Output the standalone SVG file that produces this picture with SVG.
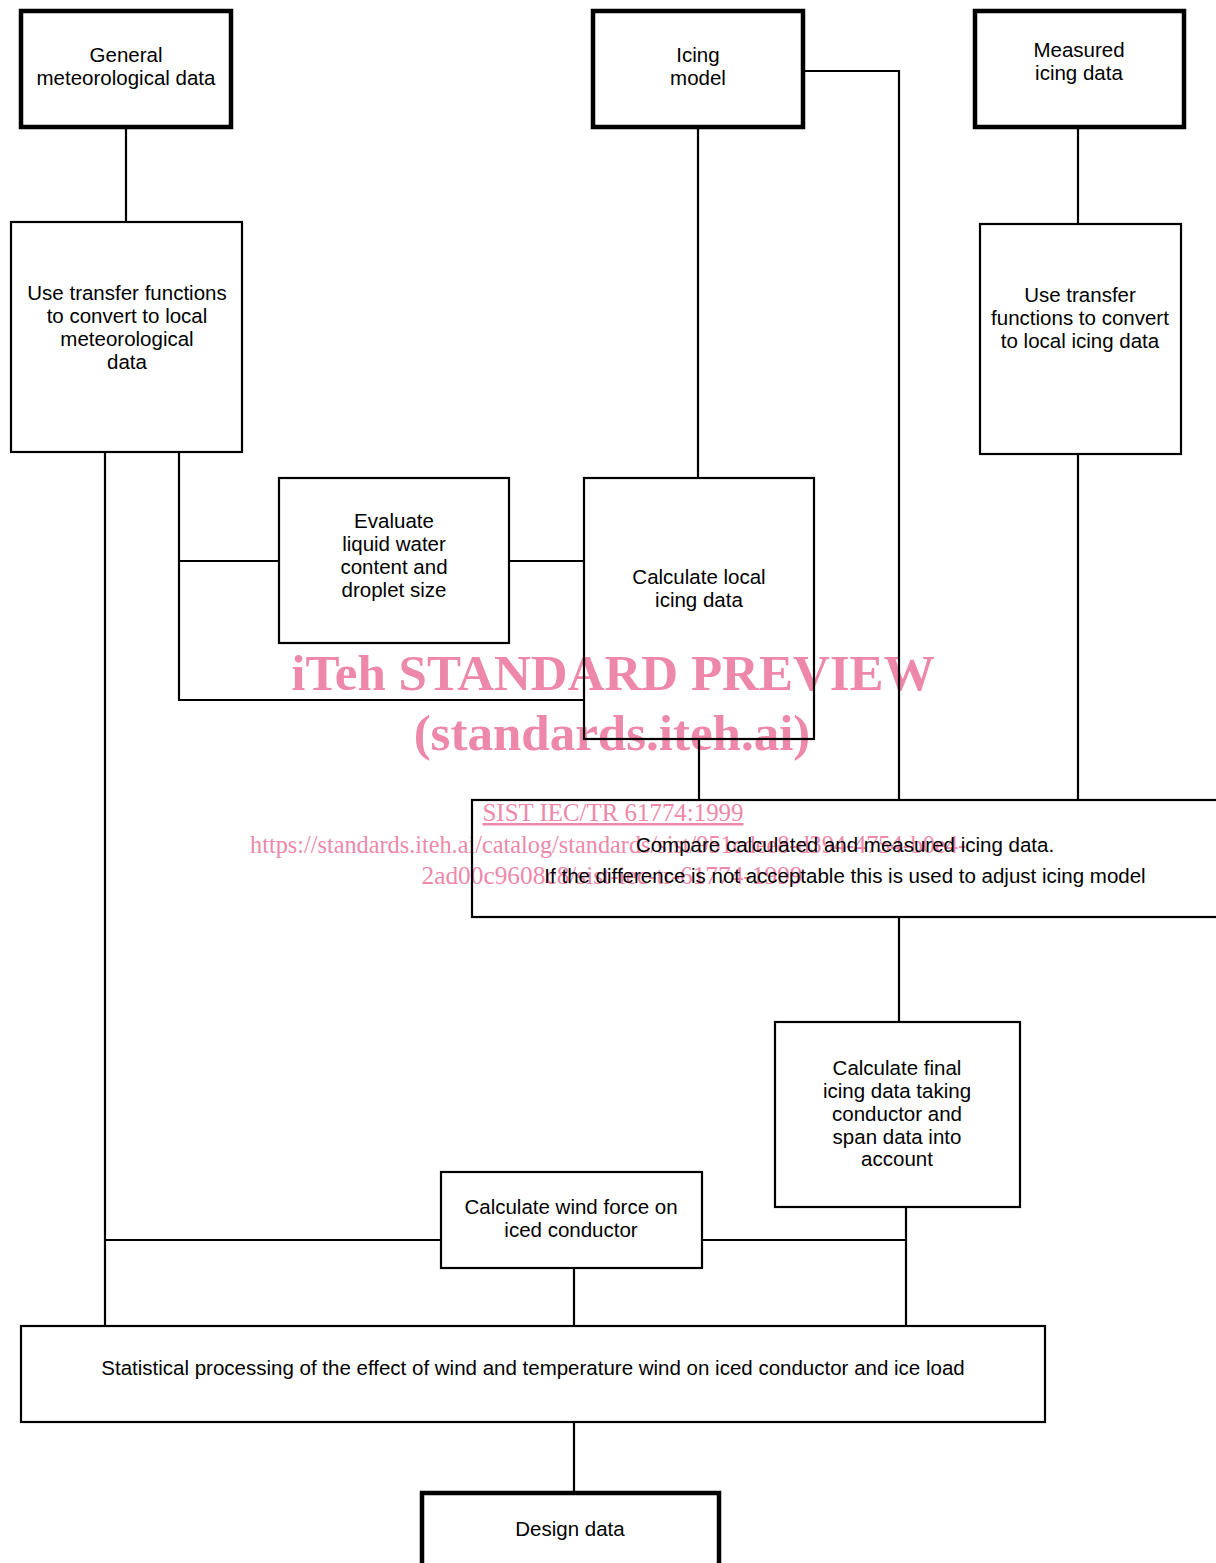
<svg xmlns="http://www.w3.org/2000/svg" width="1216" height="1563" viewBox="0 0 1216 1563">
<style>
.box{fill:none;stroke:#000;stroke-width:2.2}
.thick{fill:none;stroke:#000;stroke-width:4.5}
.lbl{font-family:"Liberation Sans",Arial,sans-serif;font-size:20.5px;fill:#000;text-anchor:middle}
.wm{font-family:"Liberation Serif","Times New Roman",serif;fill:#ee88aa;text-anchor:middle}
.conn{fill:none;stroke:#000;stroke-width:2.2}
</style>
<rect x="0" y="0" width="1216" height="1563" fill="#fff"/>
<g id="watermark">
<text class="wm" x="613" y="690" font-size="51" font-weight="bold">iTeh STANDARD PREVIEW</text>
<text class="wm" x="612" y="750" font-size="51" font-weight="bold">(standards.iteh.ai)</text>
<text class="wm" x="613" y="821" font-size="25" textLength="261" lengthAdjust="spacingAndGlyphs" text-decoration="underline">SIST IEC/TR 61774:1999</text>
<text class="wm" x="608" y="853" font-size="25" textLength="716" lengthAdjust="spacingAndGlyphs">https://standards.iteh.ai/catalog/standards/sist/951cdee8-d394-4754-b0e4-</text>
<text class="wm" x="612" y="884" font-size="25" textLength="381" lengthAdjust="spacingAndGlyphs">2ad00c9608c8/sist-iec-tr-61774-1999</text>
</g>
<g id="connectors">
<path class="conn" d="M126,128 V222"/>
<path class="conn" d="M698,128 V478"/>
<path class="conn" d="M804,71 H899 V800"/>
<path class="conn" d="M1078,128 V224"/>
<path class="conn" d="M1078,454 V800"/>
<path class="conn" d="M105,452 V1326"/>
<path class="conn" d="M179,452 V700 H584"/>
<path class="conn" d="M179,561 H279"/>
<path class="conn" d="M509,561 H584"/>
<path class="conn" d="M699,739 V800"/>
<path class="conn" d="M899,917 V1022"/>
<path class="conn" d="M105,1240 H441"/>
<path class="conn" d="M702,1240 H906"/>
<path class="conn" d="M906,1207 V1326"/>
<path class="conn" d="M574,1268 V1326"/>
<path class="conn" d="M574,1422 V1492"/>
</g>
<g id="general">
<rect class="thick" x="21" y="11" width="210" height="116"/>
<text class="lbl" x="126" y="62">General</text>
<text class="lbl" x="126" y="85">meteorological data</text>
</g>
<g id="icing-model">
<rect class="thick" x="593" y="11" width="210" height="116"/>
<text class="lbl" x="698" y="62">Icing</text>
<text class="lbl" x="698" y="85">model</text>
</g>
<g id="measured">
<rect class="thick" x="975" y="11" width="209" height="116"/>
<text class="lbl" x="1079" y="57">Measured</text>
<text class="lbl" x="1079" y="80">icing data</text>
</g>
<g id="transfer-met">
<rect class="box" x="11" y="222" width="231" height="230"/>
<text class="lbl" x="127" y="300">Use transfer functions</text>
<text class="lbl" x="127" y="323">to convert to local</text>
<text class="lbl" x="127" y="346">meteorological</text>
<text class="lbl" x="127" y="369">data</text>
</g>
<g id="transfer-icing">
<rect class="box" x="980" y="224" width="201" height="230"/>
<text class="lbl" x="1080" y="302">Use transfer</text>
<text class="lbl" x="1080" y="325">functions to convert</text>
<text class="lbl" x="1080" y="348">to local icing data</text>
</g>
<g id="evaluate">
<rect class="box" x="279" y="478" width="230" height="165"/>
<text class="lbl" x="394" y="528">Evaluate</text>
<text class="lbl" x="394" y="551">liquid water</text>
<text class="lbl" x="394" y="574">content and</text>
<text class="lbl" x="394" y="597">droplet size</text>
</g>
<g id="calc-local">
<rect class="box" x="584" y="478" width="230" height="261"/>
<text class="lbl" x="699" y="584">Calculate local</text>
<text class="lbl" x="699" y="607">icing data</text>
</g>
<g id="compare">
<rect class="box" x="472" y="800" width="760" height="117"/>
<text class="lbl" x="845" y="852">Compare calculated and measured icing data.</text>
<text class="lbl" x="845" y="883">If the difference is not acceptable this is used to adjust icing model</text>
</g>
<g id="calc-final">
<rect class="box" x="775" y="1022" width="245" height="185"/>
<text class="lbl" x="897" y="1075">Calculate final</text>
<text class="lbl" x="897" y="1098">icing data taking</text>
<text class="lbl" x="897" y="1121">conductor and</text>
<text class="lbl" x="897" y="1144">span data into</text>
<text class="lbl" x="897" y="1166">account</text>
</g>
<g id="wind-force">
<rect class="box" x="441" y="1172" width="261" height="96"/>
<text class="lbl" x="571" y="1214">Calculate wind force on</text>
<text class="lbl" x="571" y="1237">iced conductor</text>
</g>
<g id="statistical">
<rect class="box" x="21" y="1326" width="1024" height="96"/>
<text class="lbl" x="533" y="1375">Statistical processing of the effect of wind and temperature wind on iced conductor and ice load</text>
</g>
<g id="design">
<rect class="thick" x="422" y="1493" width="297" height="90"/>
<text class="lbl" x="570" y="1536">Design data</text>
</g>
</svg>
